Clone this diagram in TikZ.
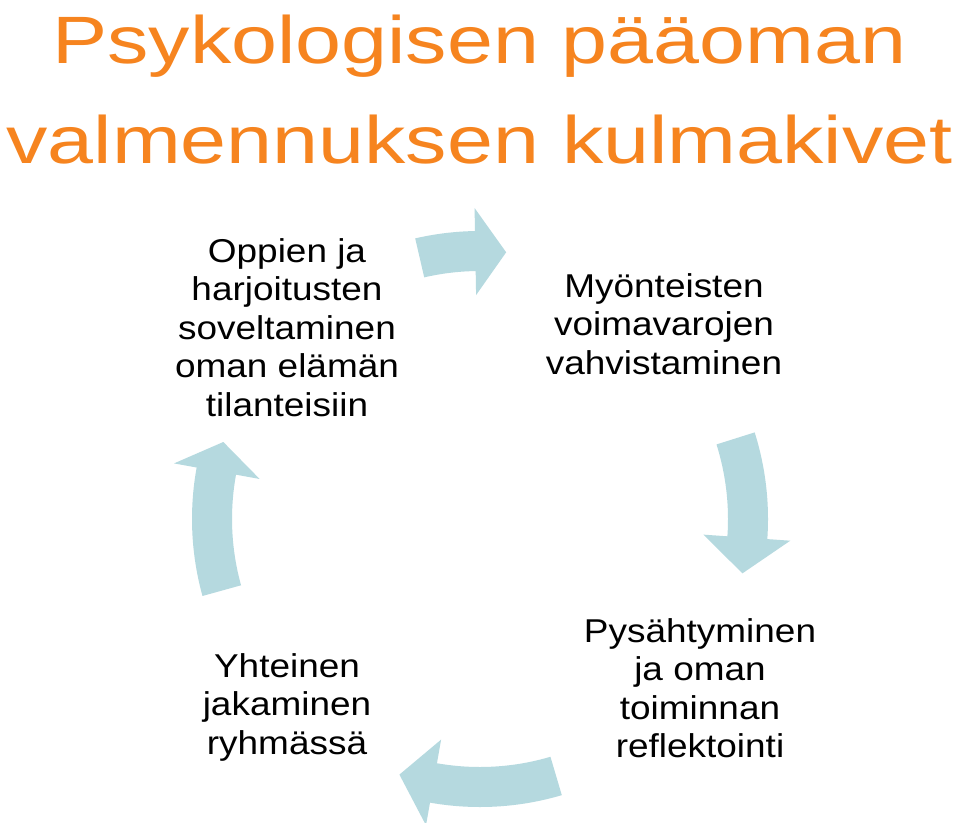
\documentclass[tikz,border=0pt]{standalone}
\usepackage{fontspec}
\usepackage{graphicx}
\setmainfont{Liberation Sans}
\definecolor{titleorange}{RGB}{246,132,31}
\definecolor{arrowblue}{RGB}{181,217,223}
\newcommand{\sxtext}[2]{\scalebox{#1}[1]{\begin{tabular}[t]{@{}c@{}}#2\end{tabular}}}
\newcommand{\cyclearrow}[4]{% name, start angle, head base angle, tip angle (math degrees)
  \fill[arrowblue] (-#2:288) arc[start angle=-#2, end angle=-#3, radius=288]
    -- (-#3:311) -- (-#4:268) -- (-#3:224) -- (-#3:248)
    arc[start angle=-#3, end angle=-#2, radius=248] -- cycle;}
\begin{document}
\begin{tikzpicture}[x=1pt,y=-1pt,
  titletext/.style={inner sep=0pt, anchor=base, text=titleorange, font=\fontsize{67}{100}\selectfont},
  bodytext/.style={inner sep=0pt, anchor=base, text=black, font=\fontsize{33}{38.6}\selectfont}]
\fill[white] (0,0) rectangle (960,822);
\useasboundingbox (0,0) rectangle (960,822);
\node[titletext] (title) at (479.5,63) {\sxtext{1.233}{Psykologisen pääoman\\valmennuksen kulmakivet}};
\node[bodytext] (n1) at (287,262) {\sxtext{1.12}{Oppien ja\\harjoitusten\\soveltaminen\\oman elämän\\tilanteisiin}};
\node[bodytext] (n2) at (664,297) {\sxtext{1.12}{Myönteisten\\voimavarojen\\vahvistaminen}};
\node[bodytext] (n3) at (700,642) {\sxtext{1.12}{Pysähtyminen\\ja oman\\toiminnan\\reflektointi}};
\node[bodytext] (n4) at (287,677) {\sxtext{1.12}{Yhteinen\\jakaminen\\ryhmässä}};
\begin{scope}[shift={(480,519)}]
\cyclearrow{a1}{103}{91}{84.4}
\cyclearrow{a2}{17.5}{-4}{-11.7}
\cyclearrow{a3}{-73.5}{-100}{-107.5}
\cyclearrow{a4}{195.5}{169.7}{163.3}
\end{scope}
\end{tikzpicture}
\end{document}
